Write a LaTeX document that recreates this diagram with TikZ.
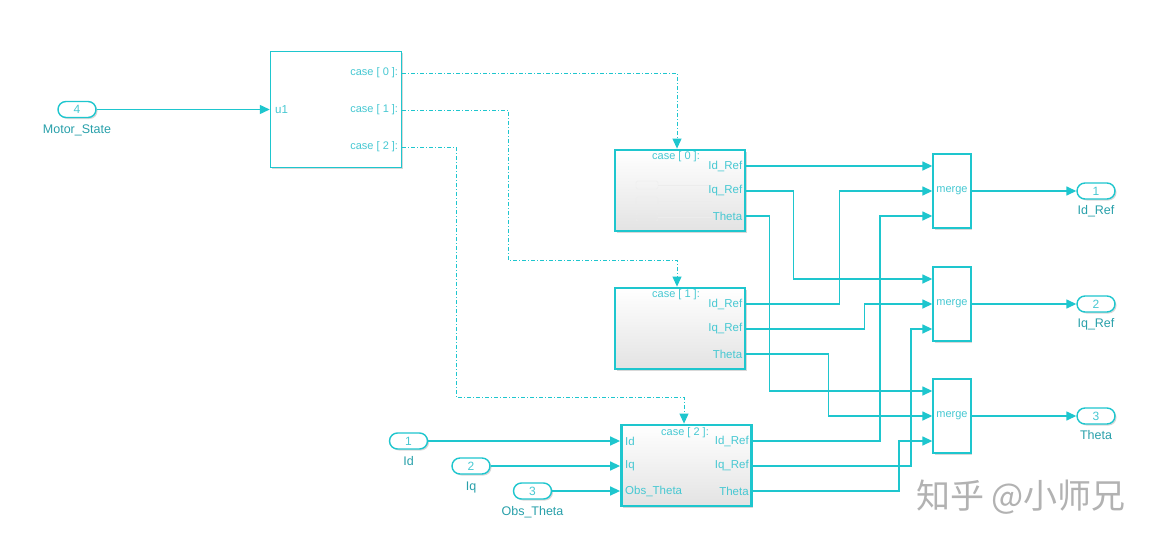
\documentclass[tikz,border=0pt]{standalone}
\usepackage{fontspec}
\setmainfont{Liberation Sans}
\newfontfamily\cjk{Noto Sans CJK SC}
\usetikzlibrary{positioning, arrows.meta, shadows}

\definecolor{simline}{RGB}{30,198,206}
\definecolor{simtext}{RGB}{70,200,210}
\definecolor{simlabel}{RGB}{40,160,170}

\tikzset{
  sig/.style={draw=simline, line width=1.4pt, -{Triangle[length=10pt,width=9pt]}},
  act/.style={draw=simline, line width=0.9pt, dash pattern=on 4pt off 2pt on 1pt off 2pt, -{Triangle[length=10pt,width=9pt]}},
  blkshadow/.style={drop shadow={opacity=0.3, shadow xshift=1.5pt, shadow yshift=-1.5pt}},
  swbox/.style={draw=simline, line width=1.5pt, fill=white, blkshadow, minimum width=131pt, minimum height=116pt},
  subsys/.style={draw=simline, line width=2.8pt, top color=white, bottom color=gray!22, blkshadow, minimum width=130pt, minimum height=81pt},
  mergebox/.style={draw=simline, line width=1.5pt, fill=white, blkshadow, minimum width=36pt, minimum height=74pt, text=simtext, font=\fontsize{11}{12}\selectfont},
  pill/.style={draw=simline, line width=1.4pt, rounded corners=8pt, fill=white, blkshadow, minimum width=38pt, minimum height=16pt, inner sep=0pt, text=simtext, font=\fontsize{12}{12}\selectfont},
  plab/.style={text=simtext, inner sep=0pt, font=\fontsize{11.5}{12}\selectfont},
  nlab/.style={text=simlabel, inner sep=0pt, font=\fontsize{12.5}{14}\selectfont},
}

\begin{document}
\begin{tikzpicture}[x=1pt, y=-1pt]
\fill[white] (0,0) rectangle (1157,546);
\useasboundingbox (0,0) rectangle (1157,546);

\node[swbox] (sw) at (336,109.5) {};
\node[pill] (in4) at (77,109.5) {4};
\node[nlab, below=6.5pt of in4] (in4l) {Motor\_State};
\draw[sig] (in4) -- (sw.west |- in4);
\node[plab, anchor=west] (swu) at (275,110) {u1};
\foreach \k/\y in {0/73, 1/110, 2/147} {
  \coordinate (sw\k) at (sw.east |- 0,\y);
  \node[plab, anchor=east, font=\fontsize{11}{12}\selectfont] (swl\k) at ([xshift=-4pt]sw\k) {case [ \k\ ]:};
}

\node[subsys] (c0) at (680,190.5) {};
\node[subsys] (c1) at (680,328.5) {};
\node[subsys] (c2) at (686.5,465.5) {};
\foreach \y in {185,201,217} {
  \draw[gray!15, rounded corners=1.5pt] (636,\y-4) rectangle (658,\y+4);
  \draw[gray!15] (658,\y) -- (712,\y);
}
\node[plab, font=\fontsize{11}{12}\selectfont] (c0l) at (676,157) {case [ 0 ]:};
\node[plab, font=\fontsize{11}{12}\selectfont] (c1l) at (676,295) {case [ 1 ]:};
\node[plab, font=\fontsize{11}{12}\selectfont] (c2l) at (685,433) {case [ 2 ]:};

\foreach \b/\y in {c0/166, c1/304, c2/441} {
  \coordinate (\b a) at (\b.east |- 0,\y);
  \coordinate (\b b) at (\b.east |- 0,\y+25);
  \coordinate (\b c) at (\b.east |- 0,\y+50);
  \node[plab, anchor=east] (\b la) at ([xshift=-4pt]\b a) {Id\_Ref};
  \node[plab, anchor=east] (\b lb) at ([xshift=-4pt]\b b) {Iq\_Ref};
  \node[plab, anchor=east] (\b lc) at ([xshift=-4pt]\b c) {Theta};
}

\foreach \n/\y/\lab in {1/191/Id\_Ref, 2/304/Iq\_Ref, 3/416/Theta} {
  \node[mergebox] (m\n) at (952,\y) {merge};
  \node[pill] (out\n) at (1096,\y) {\n};
  \node[nlab, below=6pt of out\n] (out\n l) {\lab};
  \draw[sig] (m\n) -- (out\n);
  \coordinate (m\n a) at (m\n.west |- 0,\y-25);
  \coordinate (m\n b) at (m\n.west |- 0,\y);
  \coordinate (m\n c) at (m\n.west |- 0,\y+25);
}

\foreach \s/\d/\e in {c0a/0/m1a, c0b/47/m2a, c0c/23/m3a, c1a/93/m1b, c1b/118/m2b, c1c/82/m3b, c2a/127/m1c, c2b/158/m2c, c2c/146/m3c}
  \draw[sig] (\s) -- ++(\d,0) |- (\e);

\foreach \n/\x/\y/\lab in {1/408.5/441/Id, 2/471/466/Iq, 3/532.5/491/Obs\_Theta} {
  \node[pill] (in\n) at (\x,\y) {\n};
  \node[nlab, below=6.5pt of in\n] (in\n l) {\lab};
  \draw[sig] (in\n) -- (c2.west |- in\n);
}
\node[plab, anchor=west] (c2ia) at (625,441.5) {Id};
\node[plab, anchor=west] (c2ib) at (625,466) {Iq};
\node[plab, anchor=west] (c2ic) at (625,491) {Obs\_Theta};

\draw[act] (sw0) -| ([xshift=-3pt]c0.north);
\draw[act] (sw1) -- ++(106,0) -- ++(0,150) -| ([xshift=-3pt]c1.north);
\draw[act] (sw2) -- ++(54,0) -- ++(0,250) -| ([xshift=-2.5pt]c2.north);

\node[text=gray!60, font=\cjk\fontsize{34}{36}\selectfont] (wm) at (1021,497) {知乎 @小师兄};
\end{tikzpicture}
\end{document}
